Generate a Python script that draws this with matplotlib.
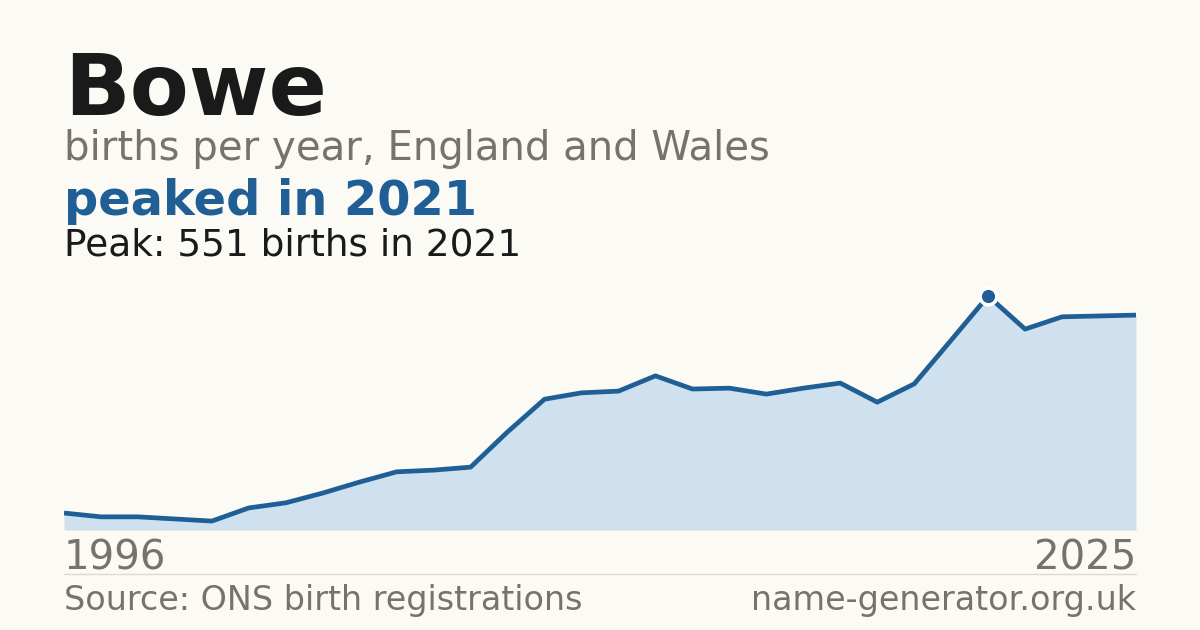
import matplotlib
matplotlib.use("Agg")
import matplotlib.pyplot as plt
import numpy as np

# births per year for the name
years = list(range(1996, 2026))
births = [40, 31, 31, 26, 21, 52, 64, 87, 113, 137, 141, 148, 231, 308, 323,
          327, 363, 332, 334, 320, 334, 346, 301, 344, 447, 551, 473, 502, 504, 506]

name = "Bowe"
subtitle = "births per year, England and Wales"
headline = "peaked in 2021"
peak_note = "Peak: 551 births in 2021"
source = "Source: ONS birth registrations"
site = "name-generator.org.uk"

bg = "#fbfaf5"
blue = "#1f5f96"
fill = "#cfe0ef"
grey = "#77726d"
ink = "#1a1a1a"

W, H = 1200, 630
fig = plt.figure(figsize=(W / 100, H / 100), dpi=100, facecolor=bg)

# plot area in pixel coords: x 64..1136, baseline at 530, peak at 296
ax = fig.add_axes([64 / W, 1 - 530 / H, (1136 - 64) / W, (530 - 296) / H])
ax.set_facecolor(bg)
ax.fill_between(years, births, 0, color=fill, linewidth=0)
ax.plot(years, births, color=blue, linewidth=3.4, solid_joinstyle="round",
        solid_capstyle="butt")
peak_i = int(np.argmax(births))
ax.plot(years[peak_i], births[peak_i], "o", color=blue, markersize=12,
        markeredgecolor="white", markeredgewidth=2.5, clip_on=False, zorder=5)
ax.axhline(0, color="#dddad2", linewidth=1)
ax.set_xlim(years[0], years[-1])
ax.set_ylim(0, max(births))
ax.axis("off")

# header texts
fig.text(64 / W, 1 - 115 / H, name, fontsize=62, fontweight="bold", color=ink,
         va="baseline")
fig.text(64 / W, 1 - 160 / H, subtitle, fontsize=29, color=grey, va="baseline")
fig.text(64 / W, 1 - 215 / H, headline, fontsize=34.5, fontweight="bold",
         color=blue, va="baseline")
fig.text(64 / W, 1 - 255 / H, peak_note, fontsize=27, color=ink, va="baseline")

# year labels
fig.text(64 / W, 1 - 570 / H, str(years[0]), fontsize=29, color=grey,
         va="baseline")
fig.text(1136 / W, 1 - 570 / H, str(years[-1]), fontsize=29, color=grey,
         va="baseline", ha="right")

# divider and footer
fig.add_artist(plt.Line2D([64 / W, 1136 / W], [1 - 574 / H, 1 - 574 / H],
                          color="#dddad2", linewidth=1))
fig.text(64 / W, 1 - 610 / H, source, fontsize=24, color=grey, va="baseline")
fig.text(1136 / W, 1 - 610 / H, site, fontsize=24, color=grey, va="baseline",
         ha="right")

fig.savefig("out.png", dpi=100, facecolor=bg)
